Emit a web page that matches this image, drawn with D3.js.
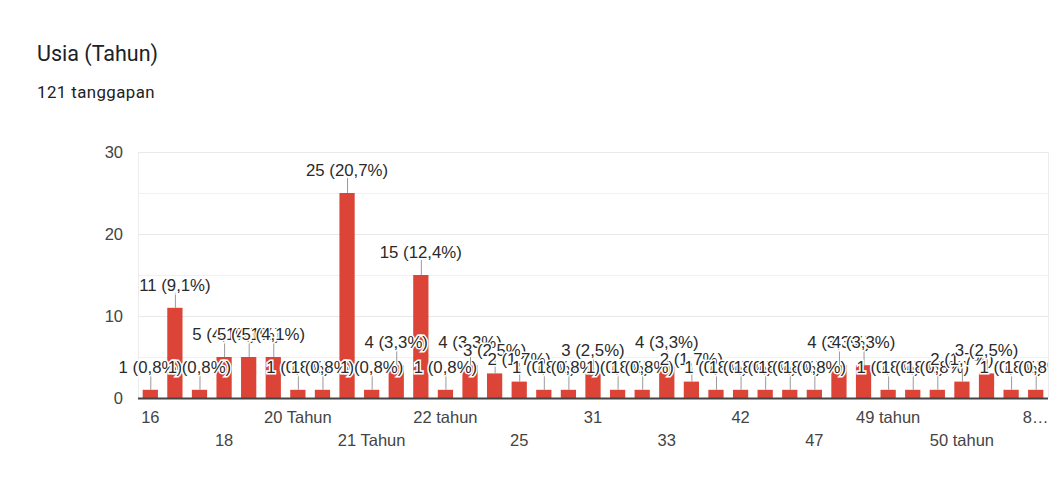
<!DOCTYPE html>
<html>
<head>
<meta charset="utf-8">
<script src="https://cdn.jsdelivr.net/npm/d3@7"></script>
<style>
  html, body { margin: 0; padding: 0; background: #fff; }
  svg { display: block; }
</style>
</head>
<body>
<svg id="chart" width="1059" height="499"></svg>
<script>
// ---- data ----
const title = "Usia (Tahun)";
const subtitle = "121 tanggapan";
const categories = ["16","17","17 Tahun","18","19","20","20 Tahun","20 tahun","21","21 Tahun","21 tahun","22","22 tahun","23","24","25","26","30","31","32","32 tahun","33","35","40","42","43","45","47","48","49","49 tahun","50","50 Tahun","50 tahun","52","55","80 tahun"];
const counts = [1,11,1,5,5,5,1,1,25,1,4,15,1,4,3,2,1,1,3,1,1,4,2,1,1,1,1,1,4,4,1,1,1,2,3,1,1];
const yTicks = [0,10,20,30];
const yGrid = [0,5,10,15,20,25,30];
const total = 121;

// ---- layout ----
const svg = d3.select("#chart");
const plot = {left: 138, right: 1048, top: 152, bottom: 398};
const chartFont = "'Liberation Sans', Arial, sans-serif";

const x = d3.scaleBand().domain(categories).range([plot.left, plot.right])
  .paddingInner(0.38).paddingOuter(0.19);
const y = d3.scaleLinear().domain([0, 30]).range([plot.bottom, plot.top]);

// title
svg.append("text").attr("x", 37).attr("y", 61)
  .attr("font-family", "Roboto, 'Noto Sans', sans-serif").attr("font-size", 21.5)
  .attr("fill", "#202124").text(title);
svg.append("text").attr("x", 37).attr("y", 98)
  .attr("font-family", "Roboto, 'Noto Sans', sans-serif").attr("font-size", 16.8)
  .attr("letter-spacing", 0.45)
  .attr("fill", "#202124").text(subtitle);

// gridlines
svg.append("g").selectAll("line").data(yGrid).join("line")
  .attr("x1", plot.left).attr("x2", plot.right)
  .attr("y1", d => Math.round(y(d)) + 0.5).attr("y2", d => Math.round(y(d)) + 0.5)
  .attr("stroke", d => d % 10 === 0 ? "#e8e8e8" : "#f1f1f1").attr("stroke-width", 1);
// side borders
svg.append("g").selectAll("line").data([plot.left, plot.right]).join("line")
  .attr("x1", d => d + 0.5).attr("x2", d => d + 0.5)
  .attr("y1", plot.top).attr("y2", plot.bottom)
  .attr("stroke", "#ececec");

// y axis
const yAxis = svg.append("g").attr("transform", `translate(${plot.left},0)`)
  .call(d3.axisLeft(y).tickValues(yTicks).tickSize(0).tickPadding(15).tickFormat(d3.format("d")));
yAxis.select(".domain").remove();
yAxis.selectAll("text").attr("font-family", chartFont)
  .attr("font-size", 16.5).attr("fill", "#444");

// bars
svg.append("g").selectAll("rect").data(counts).join("rect")
  .attr("x", (d, i) => x(categories[i]))
  .attr("y", d => y(d))
  .attr("width", x.bandwidth())
  .attr("height", d => y(0) - y(d))
  .attr("fill", "#db4437");

// baseline
svg.append("line").attr("x1", plot.left).attr("x2", plot.right)
  .attr("y1", y(0) + 0.5).attr("y2", y(0) + 0.5)
  .attr("stroke", "#444").attr("stroke-width", 2);

// x axis
const tickCats = categories.filter((c, i) => i % 3 === 0);
const xAxis = svg.append("g").attr("transform", `translate(0,${plot.bottom})`)
  .call(d3.axisBottom(x).tickValues(tickCats).tickSize(0).tickPadding(0));
xAxis.select(".domain").remove();
xAxis.selectAll("text")
  .attr("font-family", chartFont)
  .attr("font-size", 16.5).attr("fill", "#444")
  .attr("dy", null)
  .attr("y", (d, i) => i % 2 === 0 ? 25 : 48)
  .each(function() {
    const t = d3.select(this);
    let s = t.text();
    const cx = x(this.__data__) + x.bandwidth() / 2;
    while (s.length > 1 && cx + this.getComputedTextLength() / 2 > plot.right + 1) {
      s = s.slice(0, -1);
      t.text(s + "…");
    }
  });

// annotations
svg.append("defs").append("clipPath").attr("id", "annClip")
  .append("rect").attr("x", 0).attr("y", 0).attr("width", plot.right).attr("height", 499);
const ann = svg.append("g").attr("clip-path", "url(#annClip)");
const fmtPct = v => (Math.round(v / total * 1000) / 10).toFixed(1).replace(".", ",") + "%";
counts.forEach((v, i) => {
  const cx = x(categories[i]) + x.bandwidth() / 2;
  const top = y(v);
  const g = ann.append("g");
  g.append("line").attr("x1", cx + 0.5).attr("x2", cx + 0.5)
    .attr("y1", top).attr("y2", top - 15)
    .attr("stroke", "#999").attr("stroke-width", 1);
  g.append("text").attr("x", cx).attr("y", top - 17)
    .attr("text-anchor", "middle")
    .attr("font-family", chartFont)
    .attr("font-size", 16.8)
    .attr("fill", "#2a2a2a")
    .attr("stroke", "#fff").attr("stroke-width", 3).attr("paint-order", "stroke")
    .text(`${v} (${fmtPct(v)})`);
});
</script>
</body>
</html>
